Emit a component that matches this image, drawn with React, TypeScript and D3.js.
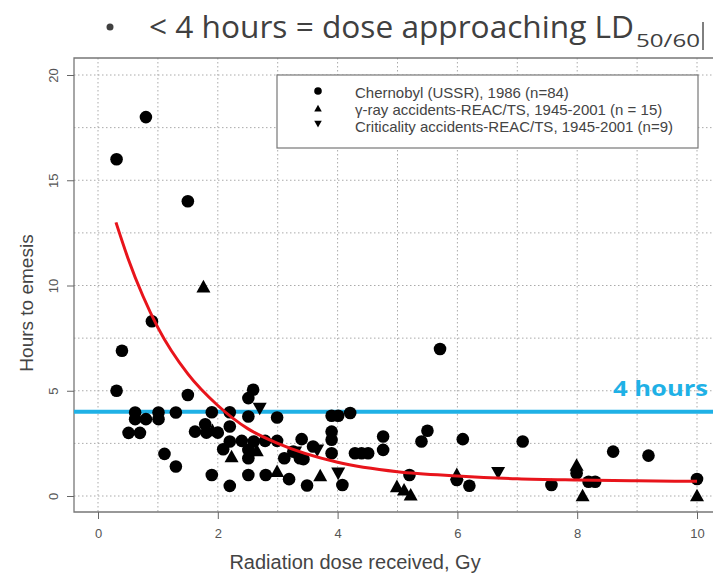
import React, { useEffect, useRef } from 'react';
import * as d3 from 'd3';

// Chernobyl (USSR), 1986 - circles
const chernobylDose = [0.31, 0.8, 1.5, 0.9, 0.4, 0.31, 1.5, 0.62, 1.01, 1.3, 1.9, 2.2, 0.62, 0.8, 1.01, 0.51, 0.7, 1.62, 1.81, 2.0, 1.79, 1.11, 1.3, 1.9, 2.2, 2.59, 2.51, 2.51, 2.99, 2.2, 2.2, 2.4, 2.6, 2.79, 2.99, 3.4, 2.09, 2.51, 2.51, 3.11, 3.37, 2.51, 2.8, 3.19, 3.49, 3.9, 4.01, 4.21, 3.9, 3.9, 3.59, 3.26, 3.43, 3.9, 4.29, 4.4, 4.51, 4.76, 4.76, 4.08, 5.71, 5.4, 5.5, 6.09, 5.2, 5.99, 6.2, 7.09, 7.57, 7.99, 8.19, 8.3, 8.6, 9.19, 10.0];
const chernobylHours = [16.0, 18.0, 14.0, 8.3, 6.9, 5.0, 4.8, 3.97, 3.97, 3.97, 3.98, 3.98, 3.65, 3.65, 3.65, 3.0, 3.0, 3.06, 3.01, 3.01, 3.41, 2.0, 1.4, 1.0, 0.48, 5.05, 4.65, 3.78, 3.73, 3.3, 2.59, 2.62, 2.59, 2.62, 2.62, 2.7, 2.22, 2.19, 1.79, 1.79, 1.79, 1.0, 1.0, 0.8, 0.5, 3.81, 3.81, 3.94, 3.06, 2.67, 2.35, 2.11, 1.75, 2.03, 2.03, 2.03, 2.03, 2.83, 2.19, 0.52, 6.98, 2.59, 3.1, 2.7, 1.0, 0.76, 0.49, 2.59, 0.52, 1.08, 0.68, 0.68, 2.11, 1.92, 0.81];

// gamma-ray accidents - triangles
const gammaDose = [1.76, 1.91, 2.23, 2.65, 2.99, 3.71, 4.99, 5.11, 5.22, 5.99, 7.99, 8.09, 10.0];
const gammaHours = [9.97, 3.14, 1.9, 2.19, 1.2, 1.0, 0.48, 0.32, 0.08, 1.05, 1.5, 0.05, 0.05];

// criticality accidents - inverted triangles
const critDose = [2.7, 3.66, 3.29, 4.01, 6.68];
const critHours = [4.13, 2.15, 2.05, 1.05, 1.08];

// fitted curve
const curveDose = [0.3, 0.5, 0.75, 1, 1.5, 2, 2.5, 3, 4, 5, 6, 7, 8, 9, 10];
const curveHours = [13.0, 11.3, 9.5, 8.0, 5.8, 4.3, 3.2, 2.5, 1.6, 1.15, 0.95, 0.82, 0.76, 0.72, 0.7];

const threshold = 4;
const xTicks = [0, 2, 4, 6, 8, 10];
const yTicks = [0, 5, 10, 15, 20];
const xGrid = [0, 1, 2, 3, 4, 5, 6, 7, 8, 9, 10];
const yGrid = [0, 2.5, 5, 7.5, 10, 12.5, 15, 17.5, 20];

const legendLabels = [
  'Chernobyl (USSR), 1986 (n=84)',
  'γ-ray accidents-REAC/TS, 1945-2001 (n = 15)',
  'Criticality accidents-REAC/TS, 1945-2001 (n=9)',
];

const width = 713;
const height = 573;
const boxLeft = 74;
const boxTop = 58;
const boxBottom = 512;
const cyan = '#1fb1e6';
const axisFont = '"Liberation Sans", Arial, sans-serif';
const slideFont = '"Open Sans", Lato, sans-serif';

const tri = (cx: number, cy: number, s: number, down = false) => {
  const h = s * 0.9;
  if (down) return `M${cx - s / 2},${cy - h / 2}L${cx + s / 2},${cy - h / 2}L${cx},${cy + h / 2}Z`;
  return `M${cx - s / 2},${cy + h / 2}L${cx + s / 2},${cy + h / 2}L${cx},${cy - h / 2}Z`;
};

const App = () => {
  const xAxisRef = useRef<SVGGElement>(null);
  const yAxisRef = useRef<SVGGElement>(null);

  const x = d3.scaleLinear().domain([0, 10]).range([98, 697]);
  const y = d3.scaleLinear().domain([0, 20]).range([496, 75]);

  useEffect(() => {
    document.body.style.margin = '0';
    const xa = d3.select(xAxisRef.current!);
    xa.selectAll('*').remove();
    xa.call(d3.axisBottom(x).tickValues(xTicks).tickSize(7).tickPadding(10).tickFormat(d3.format('d')) as any);
    xa.select('.domain').remove();
    xa.selectAll('line').attr('stroke', '#666');
    xa.selectAll('text').attr('font-family', axisFont).attr('font-size', 13).attr('fill', '#555');

    const ya = d3.select(yAxisRef.current!);
    ya.selectAll('*').remove();
    ya.call(d3.axisLeft(y).tickValues(yTicks).tickSize(7).tickPadding(10).tickFormat(d3.format('d')) as any);
    ya.select('.domain').remove();
    ya.selectAll('line').attr('stroke', '#666');
    ya.selectAll('text')
      .attr('font-family', axisFont)
      .attr('font-size', 13)
      .attr('fill', '#555')
      .attr('text-anchor', 'middle')
      .attr('dy', 0)
      .attr('transform', 'translate(-16,0) rotate(-90)')
      .attr('x', 0);
  }, []);

  const line = d3.line<number>()
    .x((_, i) => x(curveDose[i]))
    .y((d) => y(d))
    .curve(d3.curveMonotoneX);

  return (
    <svg width={width} height={height} style={{ position: 'absolute', left: 0, top: 0, background: '#fff' }}>
      {/* slide title */}
      <g fill="#404040" fontFamily={slideFont}>
        <circle cx={110} cy={27} r={3.5} />
        <text x={149} y={38} fontSize={31} textLength={485} lengthAdjust="spacingAndGlyphs">
          {'< 4 hours = dose approaching LD'}
        </text>
        <text x={636} y={47} fontSize={19} textLength={64} lengthAdjust="spacingAndGlyphs">50/60</text>
      </g>
      <line x1={703} x2={703} y1={22} y2={50} stroke="#000" strokeWidth={1} />

      {/* grid */}
      <g stroke="#aaa" strokeDasharray="1.5,2.5" strokeWidth={1}>
        {xGrid.map((d) => (
          <line key={'gx' + d} x1={x(d)} x2={x(d)} y1={boxTop} y2={boxBottom} />
        ))}
        {yGrid.map((d) => (
          <line key={'gy' + d} x1={boxLeft} x2={width} y1={y(d)} y2={y(d)} />
        ))}
      </g>

      {/* box */}
      <path d={`M${width},${boxTop}H${boxLeft}V${boxBottom}H${width}`} fill="none" stroke="#777" strokeWidth={1.3} />

      <g ref={xAxisRef} transform={`translate(0,${boxBottom})`} />
      <g ref={yAxisRef} transform={`translate(${boxLeft},0)`} />

      {/* legend */}
      <rect x={277} y={75} width={421} height={73} fill="#fff" stroke="#777" strokeWidth={1.2} />
      <g fontFamily={axisFont} fontSize={15} fill="#444">
        <circle cx={318} cy={91} r={3.8} fill="#000" />
        <path d={tri(318, 108, 7.5)} fill="#000" />
        <path d={tri(318, 124, 7.5, true)} fill="#000" />
        {legendLabels.map((l, i) => (
          <text key={l} x={355} y={98 + i * 17}>{l}</text>
        ))}
      </g>

      {/* 4 hour threshold */}
      <line x1={boxLeft} x2={width} y1={y(threshold)} y2={y(threshold)} stroke={cyan} strokeWidth={4} />
      <text x={613} y={396} fill={cyan} fontFamily={slideFont} fontWeight={700} fontSize={22} textLength={95} lengthAdjust="spacingAndGlyphs">
        4 hours
      </text>

      {/* points */}
      <g fill="#000">
        {chernobylDose.map((d, i) => (
          <circle key={'c' + i} cx={x(d)} cy={y(chernobylHours[i])} r={6.3} />
        ))}
        {gammaDose.map((d, i) => (
          <path key={'g' + i} d={tri(x(d), y(gammaHours[i]), 14)} />
        ))}
        {critDose.map((d, i) => (
          <path key={'k' + i} d={tri(x(d), y(critHours[i]), 14, true)} />
        ))}
      </g>

      {/* fitted curve */}
      <path d={line(curveHours) || ''} fill="none" stroke="#e8141b" strokeWidth={3} />

      {/* axis titles */}
      <text x={355} y={569} textAnchor="middle" fontFamily={axisFont} fontSize={20} fill="#444">
        Radiation dose received, Gy
      </text>
      <text transform="translate(33,303) rotate(-90)" textAnchor="middle" fontFamily={axisFont} fontSize={19} fill="#444">
        Hours to emesis
      </text>
    </svg>
  );
};

export default App;
